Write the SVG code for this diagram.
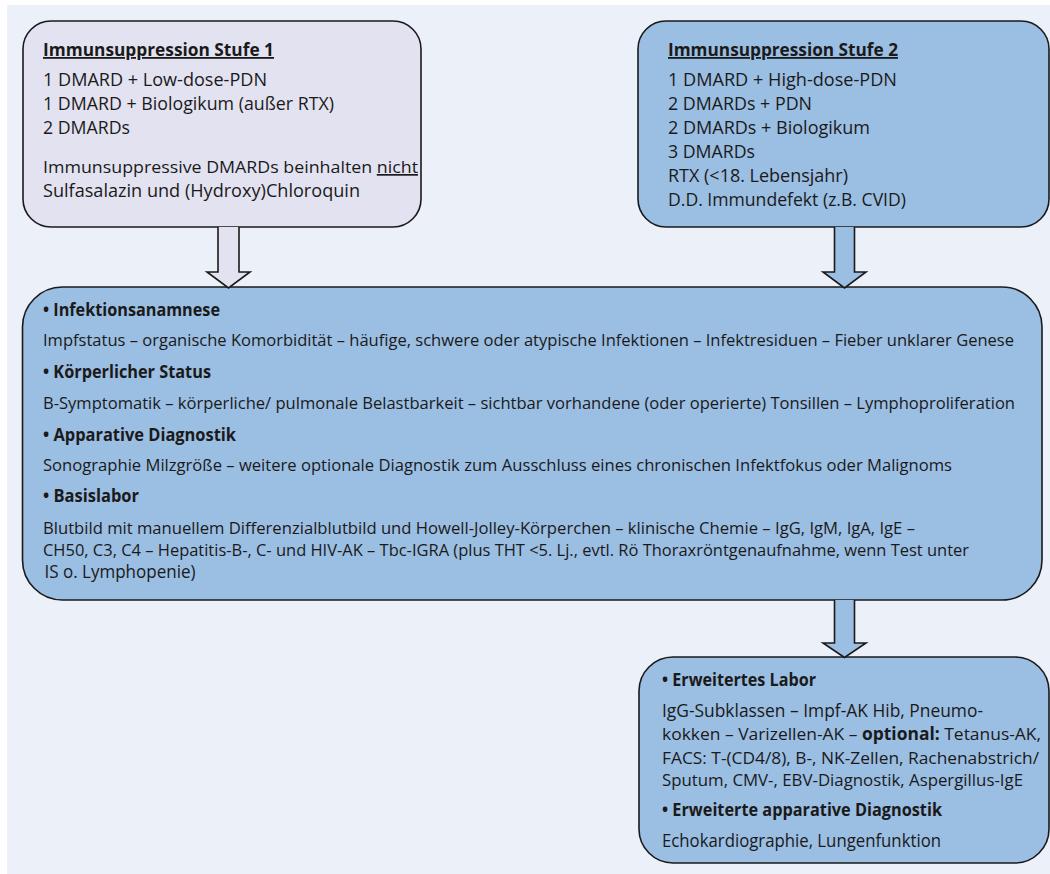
<svg xmlns="http://www.w3.org/2000/svg" width="1050" height="874" viewBox="0 0 1050 874">
<style>
.box{stroke:#1a1a1a;stroke-width:1.6}
.lav{fill:#e3e2f1}
.blue{fill:#9bbee3}
text{font-family:"Open Sans","Noto Sans","Liberation Sans",sans-serif;font-size:18px;fill:#1a1a1a}
.s{font-size:17px}
.b{font-weight:bold}
.u{text-decoration:underline}
.arrow{stroke:#1a1a1a;stroke-width:1.6;stroke-linejoin:miter}
</style>
<rect x="7" y="5" width="1043" height="869" fill="#ecf1f9"/>

<g id="node-stufe1">
<rect class="box lav" x="23" y="21" width="398" height="206" rx="28"/>
<text class="b u" x="43" y="56" textLength="231" lengthAdjust="spacingAndGlyphs">Immunsuppression Stufe 1</text>
<text x="43" y="86" textLength="224" lengthAdjust="spacingAndGlyphs">1 DMARD + Low-dose-PDN</text>
<text x="43" y="110" textLength="291" lengthAdjust="spacingAndGlyphs">1 DMARD + Biologikum (außer RTX)</text>
<text x="43" y="134" textLength="87" lengthAdjust="spacingAndGlyphs">2 DMARDs</text>
<text class="s" x="43" y="173" textLength="375" lengthAdjust="spacingAndGlyphs">Immunsuppressive DMARDs beinhalten <tspan class="u">nicht</tspan></text>
<text x="43" y="197" textLength="317" lengthAdjust="spacingAndGlyphs">Sulfasalazin und (Hydroxy)Chloroquin</text>
</g>

<g id="node-stufe2">
<rect class="box blue" x="638" y="21" width="411" height="206" rx="28"/>
<text class="b u" x="668" y="56" textLength="230" lengthAdjust="spacingAndGlyphs">Immunsuppression Stufe 2</text>
<text x="668" y="86" textLength="229" lengthAdjust="spacingAndGlyphs">1 DMARD + High-dose-PDN</text>
<text x="668" y="110" textLength="144" lengthAdjust="spacingAndGlyphs">2 DMARDs + PDN</text>
<text x="668" y="134" textLength="202" lengthAdjust="spacingAndGlyphs">2 DMARDs + Biologikum</text>
<text x="668" y="158" textLength="87" lengthAdjust="spacingAndGlyphs">3 DMARDs</text>
<text x="668" y="182" textLength="180" lengthAdjust="spacingAndGlyphs">RTX (&lt;18. Lebensjahr)</text>
<text x="668" y="206" textLength="238" lengthAdjust="spacingAndGlyphs">D.D. Immundefekt (z.B. CVID)</text>
</g>

<g id="node-basis">
<rect class="box blue" x="22.5" y="287" width="1019.5" height="313" rx="40"/>
<text class="b" x="43" y="316" textLength="177" lengthAdjust="spacingAndGlyphs">• Infektionsanamnese</text>
<text class="s" x="43" y="346" textLength="971" lengthAdjust="spacingAndGlyphs">Impfstatus – organische Komorbidität – häufige, schwere oder atypische Infektionen – Infektresiduen – Fieber unklarer Genese</text>
<text class="b" x="43" y="378" textLength="168" lengthAdjust="spacingAndGlyphs">• Körperlicher Status</text>
<text class="s" x="43" y="409" textLength="972" lengthAdjust="spacingAndGlyphs">B-Symptomatik – körperliche/ pulmonale Belastbarkeit – sichtbar vorhandene (oder operierte) Tonsillen – Lymphoproliferation</text>
<text class="b" x="43" y="441" textLength="193" lengthAdjust="spacingAndGlyphs">• Apparative Diagnostik</text>
<text class="s" x="43" y="471" textLength="909" lengthAdjust="spacingAndGlyphs">Sonographie Milzgröße – weitere optionale Diagnostik zum Ausschluss eines chronischen Infektfokus oder Malignoms</text>
<text class="b" x="43" y="502" textLength="96" lengthAdjust="spacingAndGlyphs">• Basislabor</text>
<text class="s" x="43" y="534" textLength="872" lengthAdjust="spacingAndGlyphs">Blutbild mit manuellem Differenzialblutbild und Howell-Jolley-Körperchen – klinische Chemie – IgG, IgM, IgA, IgE –</text>
<text class="s" x="43" y="556" textLength="926" lengthAdjust="spacingAndGlyphs">CH50, C3, C4 – Hepatitis-B-, C- und HIV-AK – Tbc-IGRA (plus THT &lt;5. Lj., evtl. Rö Thoraxröntgenaufnahme, wenn Test unter</text>
<text x="44.5" y="578" textLength="151" lengthAdjust="spacingAndGlyphs">IS o. Lymphopenie)</text>
</g>

<g id="node-erweitert">
<rect class="box blue" x="639" y="657" width="410" height="206" rx="34"/>
<text class="b" x="662" y="686" textLength="154" lengthAdjust="spacingAndGlyphs">• Erweitertes Labor</text>
<text x="662" y="717" textLength="321" lengthAdjust="spacingAndGlyphs">IgG-Subklassen – Impf-AK Hib, Pneumo-</text>
<text class="s" x="662" y="740" textLength="379" lengthAdjust="spacingAndGlyphs">kokken – Varizellen-AK – <tspan class="b">optional:</tspan> Tetanus-AK,</text>
<text class="s" x="662" y="764" textLength="377" lengthAdjust="spacingAndGlyphs">FACS: T-(CD4/8), B-, NK-Zellen, Rachenabstrich/</text>
<text class="s" x="662" y="786" textLength="361" lengthAdjust="spacingAndGlyphs">Sputum, CMV-, EBV-Diagnostik, Aspergillus-IgE</text>
<text class="b" x="662" y="816" textLength="280" lengthAdjust="spacingAndGlyphs">• Erweiterte apparative Diagnostik</text>
<text x="662" y="847" textLength="279" lengthAdjust="spacingAndGlyphs">Echokardiographie, Lungenfunktion</text>
</g>

<g id="connectors">
<path class="arrow lav" d="M218,227 V272 H207 L228.5,288 L250,272 H239 V227"/>
<path class="arrow blue" d="M834.5,227 V272 H823 L844.5,288 L866,272 H854.5 V227"/>
<path class="arrow blue" d="M834.5,600 V643 H823 L844.5,657.5 L866,643 H854.5 V600"/>
</g>
</svg>
